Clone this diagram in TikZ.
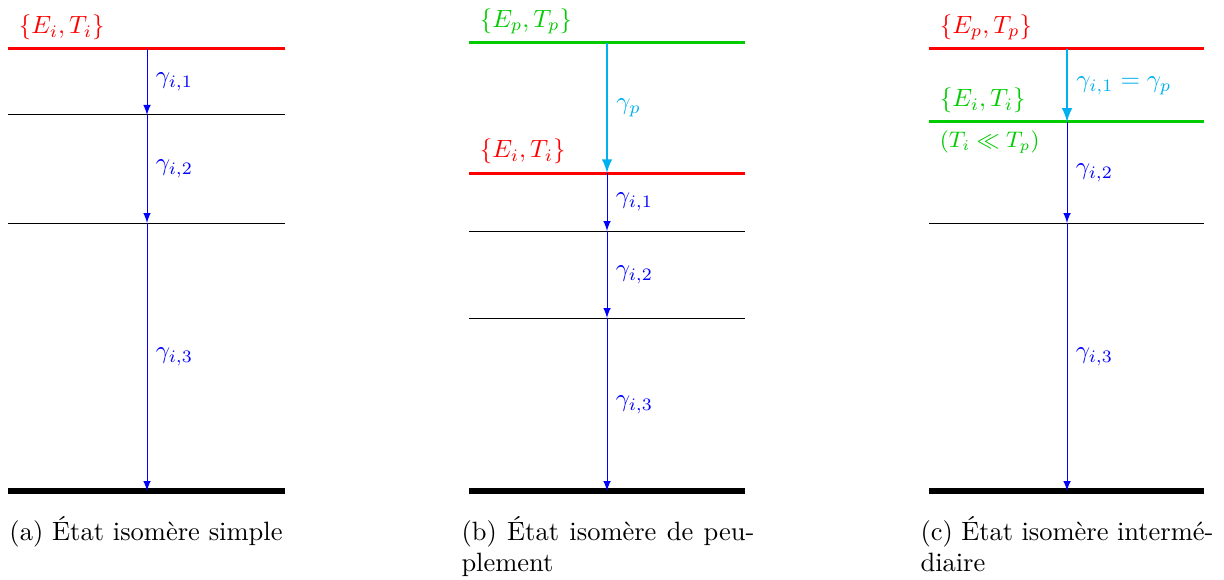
\documentclass[tikz,border=0pt]{standalone}
\usepackage{amsmath,amssymb}
\usepackage{tikz}

\definecolor{nivrouge}{RGB}{255,0,0}
\definecolor{nivvert}{RGB}{0,204,0}
\definecolor{gamcyan}{RGB}{0,176,240}
\definecolor{gambleu}{RGB}{0,0,255}

\begin{document}
\begin{tikzpicture}[x=0.4pt,y=-0.4pt,
    lvl/.style={line width=0.4pt},
    lvliso/.style={line width=1.2pt},
    lvlfond/.style={line width=2.4pt},
    gam/.style={-latex,line width=0.4pt,gambleu},
    gamp/.style={-latex,line width=0.9pt,gamcyan},
    glab/.style={midway,right},
    etat/.style={above right},
    legende/.style={inner sep=0pt,align=justify,anchor=north west,
      text width=117.2pt,font=\fontsize{10.6}{12.4}\selectfont}]
    \useasboundingbox (0,0) rectangle (1224,579);

    % (a) etat isomere simple
    \draw[lvliso,nivrouge] (8,49) -- ++(277,0);
    \foreach \y in {115,223} {
        \draw[lvl] (8,\y) -- ++(277,0);
      }
    \draw[lvlfond] (8,491) -- ++(277,0);
    \node[etat,nivrouge] (ia) at (10,49) {$\{E_i,T_i\}$};
    \coordinate (a0) at (147,49);
    \coordinate (a1) at (147,115);
    \coordinate (a2) at (147,223);
    \coordinate (a3) at (147,491);

    % (b) etat isomere de peuplement
    \draw[lvliso,nivvert] (469,43) -- ++(276,0);
    \draw[lvliso,nivrouge] (469,173) -- ++(276,0);
    \foreach \y in {231,318} {
        \draw[lvl] (469,\y) -- ++(276,0);
      }
    \draw[lvlfond] (469,491) -- ++(276,0);
    \node[etat,nivvert] (pb) at (471,43) {$\{E_p,T_p\}$};
    \node[etat,nivrouge] (ib) at (471,173) {$\{E_i,T_i\}$};
    \coordinate (bp) at (607,43);
    \coordinate (b0) at (607,173);
    \coordinate (b1) at (607,231);
    \coordinate (b2) at (607,318);
    \coordinate (b3) at (607,491);

    % (c) etat isomere intermediaire
    \draw[lvliso,nivrouge] (929,49) -- ++(275,0);
    \draw[lvliso,nivvert] (929,122) -- ++(275,0);
    \draw[lvl] (929,223) -- ++(275,0);
    \draw[lvlfond] (929,491) -- ++(275,0);
    \node[etat,nivrouge] (pc) at (931,49) {$\{E_p,T_p\}$};
    \node[etat,nivvert] (ic) at (931,122) {$\{E_i,T_i\}$};
    \node[below right,nivvert,font=\small] (tc) at (931,122) {$(T_i \ll T_p)$};
    \coordinate (cp) at (1067,49);
    \coordinate (c0) at (1067,122);
    \coordinate (c1) at (1067,223);
    \coordinate (c2) at (1067,491);

    % transitions gamma
    \draw[gamp] (bp) -- node[glab,gamcyan] {$\gamma_p$} (b0);
    \draw[gamp] (cp) -- node[glab,gamcyan] {$\gamma_{i,1} = \gamma_p$} (c0);
    \foreach \s/\t/\g in {a0/a1/{i,1},a1/a2/{i,2},a2/a3/{i,3},
        b0/b1/{i,1},b1/b2/{i,2},b2/b3/{i,3},c0/c1/{i,2},c1/c2/{i,3}} {
        \draw[gam] (\s) -- node[glab,gambleu] {$\gamma_{\g}$} (\t);
      }

    % legendes
    \node[anchor=base,font=\fontsize{10.6}{12}\selectfont] (lega) at (146,540)
      {(a) État isomère simple};
    \node[legende] (legb) at (461,516)
      {(b) État isomère de peu-\linebreak plement};
    \node[legende] (legc) at (920,516)
      {(c) État isomère intermé-\linebreak diaire};
  \end{tikzpicture}
\end{document}
